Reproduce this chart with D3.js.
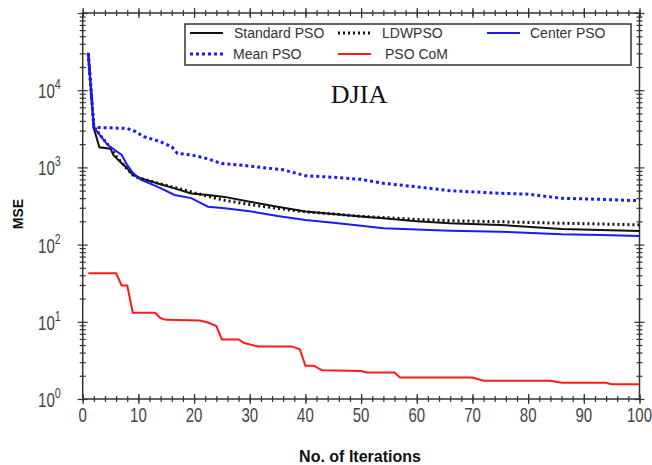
<!DOCTYPE html>
<html>
<head>
<meta charset="utf-8">
<script src="https://cdn.jsdelivr.net/npm/d3@7"></script>
<style>
  body { margin: 0; background: #fff; }
  svg { display: block; font-family: "Liberation Sans", Arial, sans-serif; }
</style>
</head>
<body>
<svg id="chart" width="652" height="465"></svg>
<script>
// datos: [iteracion, MSE]
const standardPSO = [[1,30600],[2,3200],[3,1820],[5,1750],[5.5,1450],[6.5,1230],[8,970],[9,800],[10.5,720],[13.5,620],[16.5,535],[19.5,460],[22.5,440],[25.5,415],[30,360],[35,310],[40,268],[45,249],[50,232],[54,219],[60,200],[66,189],[75,180],[86,159],[93,155],[100,150]];
const ldwPSO = [[1,30000],[2,3400],[3,2700],[4,2200],[5,1800],[6,1400],[7,1150],[8,950],[9,800],[10,730],[13,640],[16,560],[20,470],[25,380],[30,330],[35,295],[40,265],[45,250],[50,232],[55,222],[60,212],[66,204],[75,198],[86,189],[93,185],[100,180]];
const centerPSO = [[1,30000],[2,3300],[4.5,1950],[7,1450],[8,1070],[9,850],[10.5,690],[13.5,560],[16.5,440],[19.5,400],[22.5,310],[25.5,295],[30,270],[35,235],[40,209],[45,192],[50,175],[54,163],[60,157],[66,151],[75,147],[86,136],[93,133],[100,129]];
const meanPSO = [[1,30000],[2,3300],[8,3200],[9.5,2900],[11,2500],[14,2150],[16,1850],[17,1520],[19.5,1450],[22,1320],[25,1120],[28,1080],[32,1000],[36,930],[40,780],[45,745],[50,700],[54,622],[60,560],[66,499],[75,462],[80,450],[86,398],[93,386],[100,370]];
const psoCoM = [[1,42.5],[6,42.5],[7,29.5],[8,29.5],[9,13.1],[13,13.1],[14,11.1],[15,10.6],[21,10.4],[22.5,9.8],[24,8.8],[25,5.9],[28,5.9],[29,5.3],[31.5,4.8],[37.5,4.8],[39,4.4],[40,2.7],[41.5,2.7],[43,2.35],[50,2.3],[51,2.2],[56,2.2],[57,1.9],[70,1.9],[72,1.72],[84,1.72],[86,1.62],[94,1.62],[95,1.55],[100,1.55]];

const iterTicks = d3.range(0, 101, 10);
const iterMinor = d3.range(0, 101, 2);
const mseExp = [0, 1, 2, 3, 4];

const series = [
  { name: 'Standard PSO', data: standardPSO, color: '#111', dash: null, w: 2 },
  { name: 'LDWPSO', data: ldwPSO, color: '#111', dash: '2,3', w: 3 },
  { name: 'Center PSO', data: centerPSO, color: '#1a1aff', dash: null, w: 2 },
  { name: 'Mean PSO', data: meanPSO, color: '#1a1aff', dash: '3,3', w: 3 },
  { name: 'PSO CoM', data: psoCoM, color: '#ff1a1a', dash: null, w: 2 }
];

const pLeft = 82.7, pRight = 639.5, pTop = 13, pBottom = 399;
const svg = d3.select('#chart');

const x = d3.scaleLinear().domain([0, 100]).range([pLeft, pRight]);
const y = d3.scaleLog().domain([1, 1e5]).range([pBottom, pTop]);

// marcas menores del eje log
const yMinor = [];
for (let e = 0; e < 5; e++) for (let k = 2; k <= 9; k++) yMinor.push(k * Math.pow(10, e));
const yMajor = mseExp.map(e => Math.pow(10, e)).concat([1e5]);

const axisCol = '#333';
function tickAxis(axisFn, scale, vals, size, pos) {
  const g = svg.append('g').attr('transform', pos)
    .call(axisFn(scale).tickValues(vals).tickSize(size).tickFormat(''));
  g.select('.domain').remove();
  g.selectAll('line').attr('stroke', axisCol).attr('stroke-width', 1.2);
  return g;
}
// ticks que cruzan los ejes
[5, -5].forEach(s => {
  tickAxis(d3.axisBottom, x, iterTicks, s, `translate(0,${pBottom})`);
  tickAxis(d3.axisTop, x, iterTicks, s, `translate(0,${pTop})`);
  tickAxis(d3.axisLeft, y, yMajor, s, `translate(${pLeft},0)`);
  tickAxis(d3.axisRight, y, yMajor, s, `translate(${pRight},0)`);
});
[3, -3].forEach(s => {
  tickAxis(d3.axisBottom, x, iterMinor, s, `translate(0,${pBottom})`);
  tickAxis(d3.axisTop, x, iterMinor, s, `translate(0,${pTop})`);
  tickAxis(d3.axisLeft, y, yMinor, s, `translate(${pLeft},0)`);
  tickAxis(d3.axisRight, y, yMinor, s, `translate(${pRight},0)`);
});

svg.append('rect')
  .attr('x', pLeft).attr('y', pTop)
  .attr('width', pRight - pLeft).attr('height', pBottom - pTop)
  .attr('fill', 'none').attr('stroke', axisCol).attr('stroke-width', 1.5);

// etiquetas del eje x
svg.append('g').selectAll('text')
  .data(iterTicks).enter().append('text')
  .attr('transform', d => `translate(${x(d)},422) scale(0.75,1)`)
  .attr('text-anchor', 'middle')
  .attr('font-size', 20).attr('fill', '#444')
  .text(d => d);

// etiquetas del eje y (10^n)
const yl = svg.append('g').selectAll('text')
  .data(mseExp).enter().append('text')
  .attr('transform', d => `translate(38,${y(Math.pow(10, d)) + 8}) scale(0.72,1)`)
  .attr('font-size', 21).attr('fill', '#444');
yl.append('tspan').text('10');
yl.append('tspan').attr('dy', -9).attr('font-size', 15).text(d => d);

// lineas
const line = d3.line().x(d => x(d[0])).y(d => y(d[1]));
svg.append('g').selectAll('path')
  .data(series).enter().append('path')
  .attr('d', d => line(d.data))
  .attr('fill', 'none')
  .attr('stroke', d => d.color)
  .attr('stroke-width', d => d.w)
  .attr('stroke-dasharray', d => d.dash);

// leyenda
svg.append('rect')
  .attr('x', 185).attr('y', 24).attr('width', 446).attr('height', 41)
  .attr('fill', '#fff').attr('stroke', axisCol).attr('stroke-width', 1.5);
const legPos = [[190, 33, 234], [338, 33, 382], [487, 33, 530], [190, 54, 233], [338, 54, 385]];
const leg = svg.append('g').selectAll('g')
  .data(series).enter().append('g')
  .attr('transform', (d, i) => `translate(${legPos[i][0]},${legPos[i][1]})`);
leg.append('line')
  .attr('x1', 0).attr('x2', 33)
  .attr('stroke', d => d.color)
  .attr('stroke-width', d => d.w)
  .attr('stroke-dasharray', d => d.dash);
leg.append('text')
  .attr('x', (d, i) => legPos[i][2] - legPos[i][0])
  .attr('y', 5)
  .attr('font-size', 14).attr('fill', '#333')
  .text(d => d.name);

// titulo y ejes
svg.append('text')
  .attr('x', 359).attr('y', 103)
  .attr('text-anchor', 'middle')
  .attr('font-family', '"Liberation Serif", "Times New Roman", serif')
  .attr('font-size', 26).attr('fill', '#111')
  .text('DJIA');

svg.append('text')
  .attr('transform', 'translate(23,214) rotate(-90)')
  .attr('text-anchor', 'middle')
  .attr('font-size', 14).attr('font-weight', 'bold').attr('fill', '#111')
  .text('MSE');

svg.append('text')
  .attr('x', 360).attr('y', 462)
  .attr('text-anchor', 'middle')
  .attr('font-size', 16).attr('font-weight', 'bold').attr('fill', '#111')
  .text('No. of Iterations');
</script>
</body>
</html>
